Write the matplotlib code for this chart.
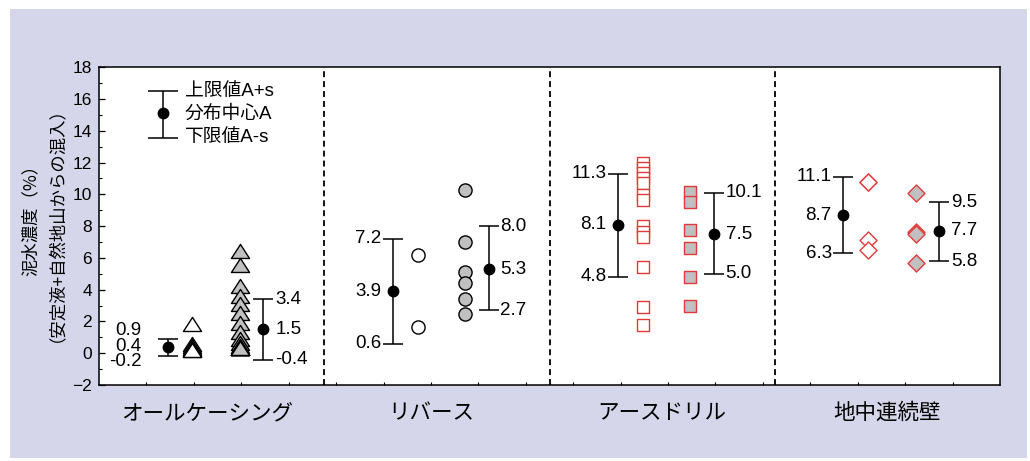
import numpy as np
import matplotlib
matplotlib.use("Agg")
import matplotlib.pyplot as plt
from matplotlib.patches import Rectangle
from matplotlib.path import Path
from matplotlib.ticker import MultipleLocator, FixedLocator

plt.rcParams['font.family'] = ['Liberation Sans', 'Noto Sans CJK JP', 'DejaVu Sans']

# ---- data ---------------------------------------------------------------
methods = ["オールケーシング", "リバース", "アースドリル", "地中連続壁"]

# individual measurements: stabiliser fluid only (open) / fluid + ground (grey)
casing_open = [1.7, 0.45, 0.3, 0.2, 0.15, 0.1, 0.1]
casing_grey = [6.3, 5.4, 4.1, 3.5, 3.0, 2.4, 1.8, 1.2, 0.8, 0.5, 0.3,
               0.2, 0.2, 0.2, 0.2, 0.2, 0.2, 0.2]
reverse_open = [6.2, 1.65]
reverse_grey = [10.3, 7.0, 5.1, 4.4, 3.4, 2.5]
earth_open = [11.95, 11.65, 11.35, 11.0, 10.7, 9.95, 9.65, 8.0, 7.65, 7.3,
              5.45, 2.9, 1.8]
earth_grey = [10.15, 9.55, 7.75, 6.65, 4.8, 3.0]
wall_open = [10.8, 10.8, 7.1, 6.5]
wall_grey = [10.1, 7.65, 7.5, 5.65]

# distribution summaries: (lower A-s, centre A, upper A+s) for each group
open_lower = [-0.2, 0.6, 4.8, 6.3]
open_center = [0.4, 3.9, 8.1, 8.7]
open_upper = [0.9, 7.2, 11.3, 11.1]
grey_lower = [-0.4, 2.7, 5.0, 5.8]
grey_center = [1.5, 5.3, 7.5, 7.7]
grey_upper = [3.4, 8.0, 10.1, 9.5]

legend_labels = ["上限値A+s", "分布中心A", "下限値A-s"]
ylabel_lines = ["泥水濃度（%）", "（安定液+自然地山からの混入）"]

# ---- figure -------------------------------------------------------------
fig = plt.figure(figsize=(10.30, 4.61), dpi=100)
fig.patch.set_facecolor("white")
fig.add_artist(Rectangle((10 / 1030, 3 / 461), 1017 / 1030, 449 / 461,
                         transform=fig.transFigure, facecolor="#D6D6EB",
                         edgecolor="none", zorder=-10))

ax = fig.add_axes([99 / 1030, 76 / 461, 901 / 1030, 317.7 / 461])
ax.set_facecolor("white")
ax.set_xlim(0, 4)
ax.set_ylim(-2, 18)

for s in ax.spines.values():
    s.set_linewidth(1.1)
    s.set_color("black")

ax.yaxis.set_major_locator(MultipleLocator(2))
ax.yaxis.set_minor_locator(MultipleLocator(1))
ax.tick_params(axis="y", which="major", direction="in", length=4, width=0.9,
               labelsize=12.5, pad=5)
ax.tick_params(axis="y", which="minor", direction="in", length=2.3, width=0.8)
ax.set_xticks([])
ax.xaxis.set_minor_locator(FixedLocator(np.arange(1, 19) * 4 / 19))
ax.tick_params(axis="x", which="minor", direction="in", length=2, width=0.8)

# panel dividers
for xd in (1, 2, 3):
    ax.axvline(xd, color="black", lw=1.3, linestyle=(0, (3.3, 2.2)), zorder=1)

red = "#E23A3A"
grey = "#C0C0C0"
# triangle whose centroid sits on the data point
tri = Path([(0, 1), (-1, -0.55), (1, -0.55), (0, 1)],
           [Path.MOVETO, Path.LINETO, Path.LINETO, Path.CLOSEPOLY])

groups = [
    (casing_open, casing_grey, dict(marker=tri, s=170), "black", "black"),
    (reverse_open, reverse_grey, dict(marker="o", s=90), "black", "black"),
    (earth_open, earth_grey, dict(marker="s", s=80), red, red),
    (wall_open, wall_grey, dict(marker="D", s=75), red, red),
]

x_bar_l, x_open, x_grey, x_bar_r = 0.305, 0.415, 0.625, 0.73

for k, (op, gr, mk, ec_o, ec_g) in enumerate(groups):
    ax.scatter(np.full(len(op), k + x_open), op, facecolor="white",
               edgecolor=ec_o, linewidth=1.0, zorder=3, **mk)
    ax.scatter(np.full(len(gr), k + x_grey), gr, facecolor=grey,
               edgecolor=ec_g, linewidth=1.0, zorder=3, **mk)

num_fs = 13.5
off = 0.052  # horizontal gap between bar and value label, axis units

for k in range(4):
    # left summary bar (open markers)
    lo, c, up = open_lower[k], open_center[k], open_upper[k]
    xb = k + x_bar_l
    ax.errorbar([xb], [c], yerr=[[c - lo], [up - c]], fmt="o", color="black",
                ms=7.5, capsize=7.5, elinewidth=1.1, capthick=1.1, zorder=4)
    if k == 0:
        ys = [up + 0.55, c + 0.05, lo - 0.35]
        xt = xb - 0.115
    else:
        ys = [up, c, lo]
        xt = xb - off
    for yv, val in zip(ys, (up, c, lo)):
        ax.text(xt, yv, f"{val:.1f}", ha="right", va="center",
                fontsize=num_fs, zorder=5)

    # right summary bar (grey markers)
    lo, c, up = grey_lower[k], grey_center[k], grey_upper[k]
    xb = k + x_bar_r
    ax.errorbar([xb], [c], yerr=[[c - lo], [up - c]], fmt="o", color="black",
                ms=7.5, capsize=7.5, elinewidth=1.1, capthick=1.1, zorder=4)
    for yv, val in zip((up, c, lo), (up, c, lo)):
        ax.text(xb + off, yv, f"{val:.1f}", ha="left", va="center",
                fontsize=num_fs, zorder=5)

# legend glyph
ax.errorbar([0.283], [15.1], yerr=[[1.57], [1.43]], fmt="o", color="black",
            ms=7.5, capsize=11, elinewidth=1.1, capthick=1.1, zorder=4)
for yv, lab in zip((16.5, 15.05, 13.6), legend_labels):
    ax.text(0.38, yv, lab, ha="left", va="center", fontsize=13.5)

# category labels
label_shift = [-0.022, -0.025, 0.0, 0.0]
for k, name in enumerate(methods):
    ax.text(k + 0.5 + label_shift[k], -0.088, name,
            transform=ax.get_xaxis_transform(),
            ha="center", va="center", fontsize=15.5,
            family=["Noto Sans CJK JP", "DejaVu Sans"])

# y-axis title (two lines)
yc = 1 - 216 / 461
fig.text(31 / 1030, yc, ylabel_lines[0], rotation=90, ha="center",
         va="center", fontsize=12.5, family=["Noto Sans CJK JP", "DejaVu Sans"])
fig.text(48 / 1030, yc, ylabel_lines[1], rotation=90, ha="center",
         va="center", fontsize=12.5, family=["Noto Sans CJK JP", "DejaVu Sans"])

fig.savefig("out.png", dpi=100, facecolor=fig.get_facecolor())
